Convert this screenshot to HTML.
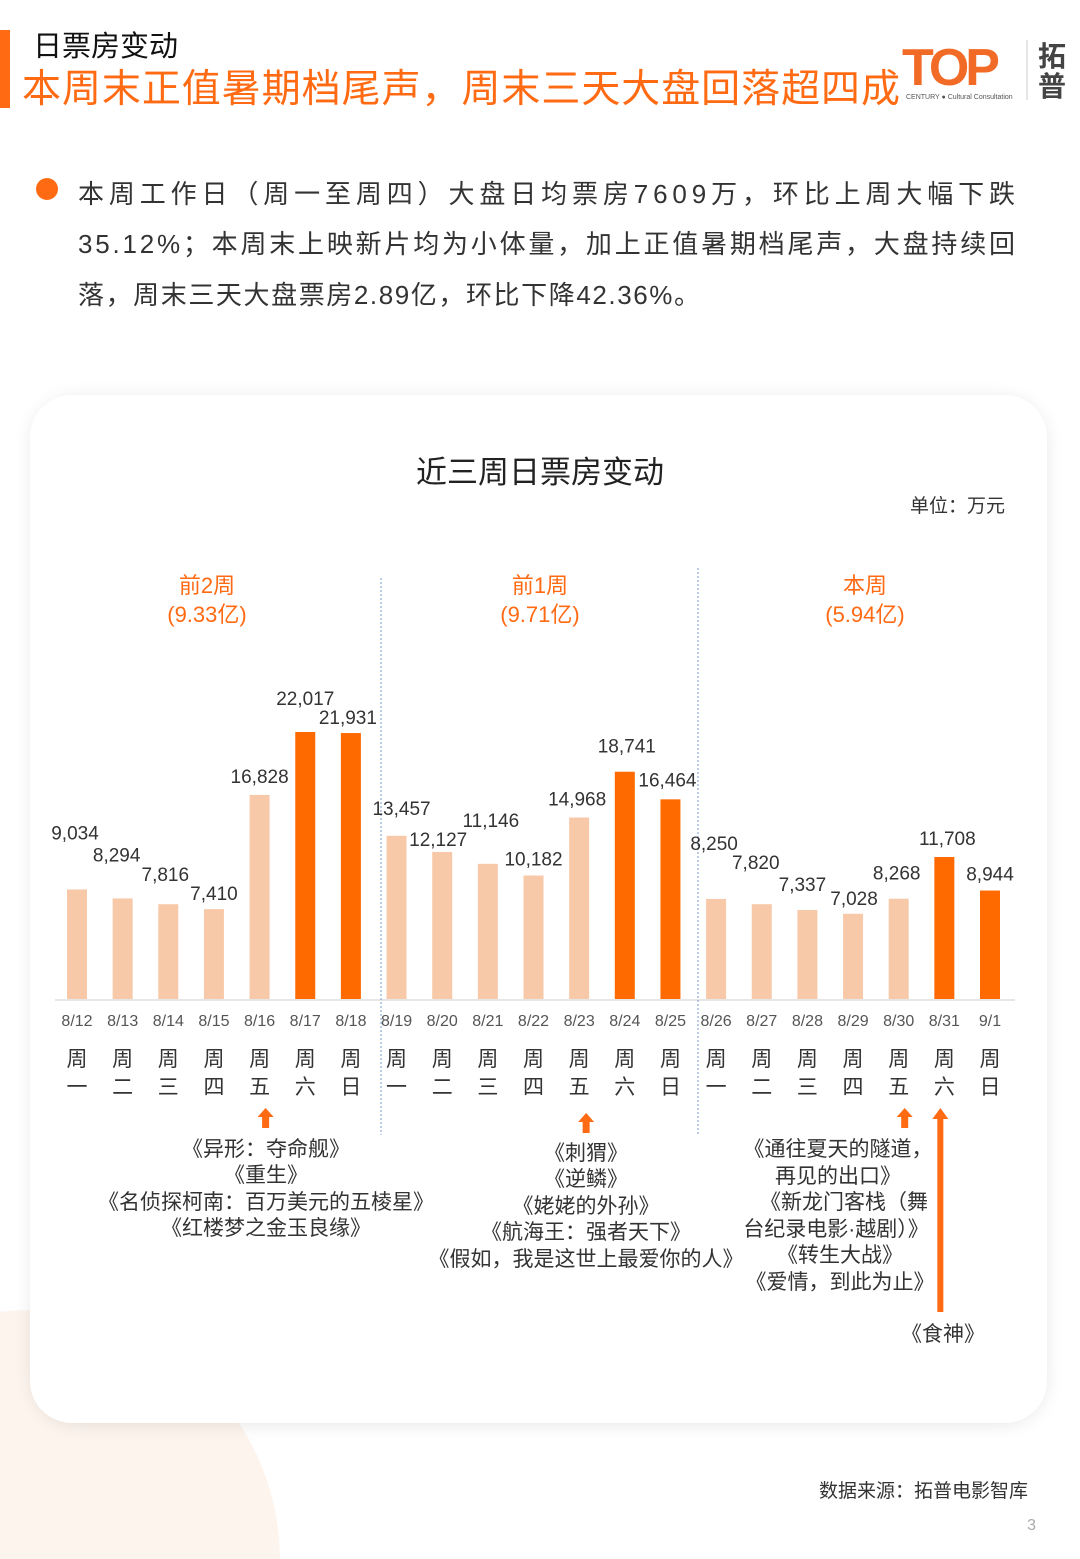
<!DOCTYPE html>
<html><head><meta charset="utf-8">
<style>
html,body{margin:0;padding:0;background:#fff;width:1080px;height:1559px;overflow:hidden;}
body{position:relative;font-family:"Liberation Sans","Noto Sans CJK SC",sans-serif;}
svg{display:block;}
</style></head>
<body>
<svg width="1080" height="1559" viewBox="0 0 1080 1559" xmlns="http://www.w3.org/2000/svg" style="position:absolute;left:0;top:0" font-family="Liberation Sans, Noto Sans CJK SC, sans-serif">
<defs>
<filter id="sh" x="-10%" y="-10%" width="120%" height="120%"><feGaussianBlur stdDeviation="10"/></filter>
</defs>
<circle cx="30" cy="1560" r="250" fill="#fdf4ee"/>
<rect x="0" y="30" width="10" height="78" fill="#ff6a13"/>
<text x="33" y="56" font-size="29" fill="#111">日票房变动</text>
<text x="22" y="102" font-size="39" fill="#ff6a13" textLength="878" lengthAdjust="spacing">本周末正值暑期档尾声，周末三天大盘回落超四成</text>
<g>
<text x="902" y="85" font-size="52" font-weight="bold" fill="#f26b26" letter-spacing="-4">TOP</text>
<text x="906" y="99" font-size="7" fill="#555">CENTURY ● Cultural Consultation</text>
<line x1="1027" y1="40" x2="1027" y2="100" stroke="#ccc"/>
<text x="1038" y="66" font-size="28" font-weight="bold" fill="#444">拓</text>
<text x="1038" y="96" font-size="28" font-weight="bold" fill="#444">普</text>
</g>
<circle cx="47" cy="189" r="11" fill="#ff6a13"/>
<g font-size="26" fill="#333">
<text x="78" y="203" textLength="937" lengthAdjust="spacing">本周工作日（周一至周四）大盘日均票房7609万，环比上周大幅下跌</text>
<text x="78" y="253" textLength="937" lengthAdjust="spacing">35.12%；本周末上映新片均为小体量，加上正值暑期档尾声，大盘持续回</text>
<text x="78" y="304" textLength="622" lengthAdjust="spacing">落，周末三天大盘票房2.89亿，环比下降42.36%。</text>
</g>
<rect x="34" y="400" width="1010" height="1022" rx="42" fill="#000" opacity="0.12" filter="url(#sh)"/>
<rect x="30" y="395" width="1017" height="1028" rx="42" fill="#fff"/>
<text x="540" y="483" font-size="31" text-anchor="middle" fill="#222">近三周日票房变动</text>
<text x="1005" y="512" font-size="19" text-anchor="end" fill="#333">单位：万元</text>
<g id="chart"></g>
<g font-size="21" fill="#333" text-anchor="middle">
<text x="266" y="1156">《异形：夺命舰》</text>
<text x="266" y="1182">《重生》</text>
<text x="266" y="1209">《名侦探柯南：百万美元的五棱星》</text>
<text x="266" y="1235">《红楼梦之金玉良缘》</text>
<text x="586" y="1160">《刺猬》</text>
<text x="586" y="1186">《逆鳞》</text>
<text x="586" y="1213">《姥姥的外孙》</text>
<text x="586" y="1239">《航海王：强者天下》</text>
<text x="586" y="1266">《假如，我是这世上最爱你的人》</text>
<text x="838" y="1156">《通往夏天的隧道，</text>
<text x="838" y="1183">再见的出口》</text>
<text x="844" y="1209">《新龙门客栈（舞</text>
<text x="836" y="1236">台纪录电影·越剧）》</text>
<text x="840" y="1262">《转生大战》</text>
<text x="840" y="1289">《爱情，到此为止》</text>
<text x="943" y="1341">《食神》</text>
</g>
<text x="1028" y="1497" font-size="19" text-anchor="end" fill="#333">数据来源：拓普电影智库</text>
<text x="1036" y="1530" font-size="16" text-anchor="end" fill="#aaa">3</text>
</svg>
<script>
const dates=["8/12","8/13","8/14","8/15","8/16","8/17","8/18","8/19","8/20","8/21","8/22","8/23","8/24","8/25","8/26","8/27","8/28","8/29","8/30","8/31","9/1"];
const weekdays=["一","二","三","四","五","六","日","一","二","三","四","五","六","日","一","二","三","四","五","六","日"];
const values=[9034,8294,7816,7410,16828,22017,21931,13457,12127,11146,10182,14968,18741,16464,8250,7820,7337,7028,8268,11708,8944];
const valueLabels=["9,034","8,294","7,816","7,410","16,828","22,017","21,931","13,457","12,127","11,146","10,182","14,968","18,741","16,464","8,250","7,820","7,337","7,028","8,268","11,708","8,944"];
const weekend=[0,0,0,0,0,1,1,0,0,0,0,0,1,1,0,0,0,0,0,1,1];
const weekNames=["前2周","前1周","本周"];
const weekTotals=["(9.33亿)","(9.71亿)","(5.94亿)"];
const labelLift=[50,37,23,9,12,27,9,21,6,37,10,12,19,13,49,35,19,9,19,12,10];
const labelShift=[-2,-6,-3,0,0,0,-3,5,-4,3,0,-2,2,-3,-2,-6,-5,1,-2,3,0];
const arrowDays=[4,11,18];

const NS="http://www.w3.org/2000/svg";
const g=document.getElementById('chart');
const baseY=999, scale=267/22017;
const xOf=i=>77+i*45.65;
const yOf=v=>baseY-v*scale;
function mk(tag,attrs,txt){const e=document.createElementNS(NS,tag);for(const k in attrs)e.setAttribute(k,attrs[k]);if(txt!==undefined)e.textContent=txt;g.appendChild(e);return e;}

const ax=mk('line',{x1:55,x2:1015,y1:baseY+1,y2:baseY+1,stroke:'#e6e6e6','stroke-width':2});


[381,698].forEach((x,k)=>{
  const l=mk('line',{x1:x,x2:x,y1:k?568:578,y2:1135,stroke:'#7a9bd0','stroke-width':1,'stroke-dasharray':'2,2'});
  
  
});
const wx=[207,540,865];
weekNames.forEach((n,k)=>{
  const t=mk('text',{x:wx[k],y:593,'font-size':22,fill:'#ff6a13','text-anchor':'middle'},n);
  
  
  const t2=mk('text',{x:wx[k],y:622,'font-size':22,fill:'#ff6a13','text-anchor':'middle'},weekTotals[k]);
  
  
});
values.forEach((v,i)=>{
  const x=xOf(i),y=yOf(v);
  const r=mk('rect',{x:x-10,y:y,width:20,height:baseY-y,fill:weekend[i]?'#ff6a00':'#f8c9a8'});
  
  
  const t=mk('text',{x:x+labelShift[i],y:y-labelLift[i],'font-size':19,fill:'#333','text-anchor':'middle'},valueLabels[i]);
  
  
  const d=mk('text',{x:x,y:1026,'font-size':16,fill:'#555','text-anchor':'middle'},dates[i]);
  
  
  const w1=mk('text',{x:x,y:1066,'font-size':21,fill:'#333','text-anchor':'middle'},'周');
  
  
  const w2=mk('text',{x:x,y:1094,'font-size':21,fill:'#333','text-anchor':'middle'},weekdays[i]);
  
  
});
arrowDays.forEach((i,k)=>{
  const x=xOf(i)+(k==1?7:6), top=k==1?1113:1108;
  const p=mk('path',{d:`M${x-8} ${top+9} L${x} ${top} L${x+8} ${top+9} L${x+3.5} ${top+9} L${x+3.5} ${top+20} L${x-3.5} ${top+20} L${x-3.5} ${top+9} Z`,fill:'#ff6a13'});
  
  
});
{
  const x=xOf(19)-4;
  const p=mk('path',{d:`M${x-8} 1119 L${x} 1108 L${x+8} 1119 L${x+3} 1119 L${x+3} 1312 L${x-3} 1312 L${x-3} 1119 Z`,fill:'#ff6a13'});
  
  
}
</script>
</body></html>
